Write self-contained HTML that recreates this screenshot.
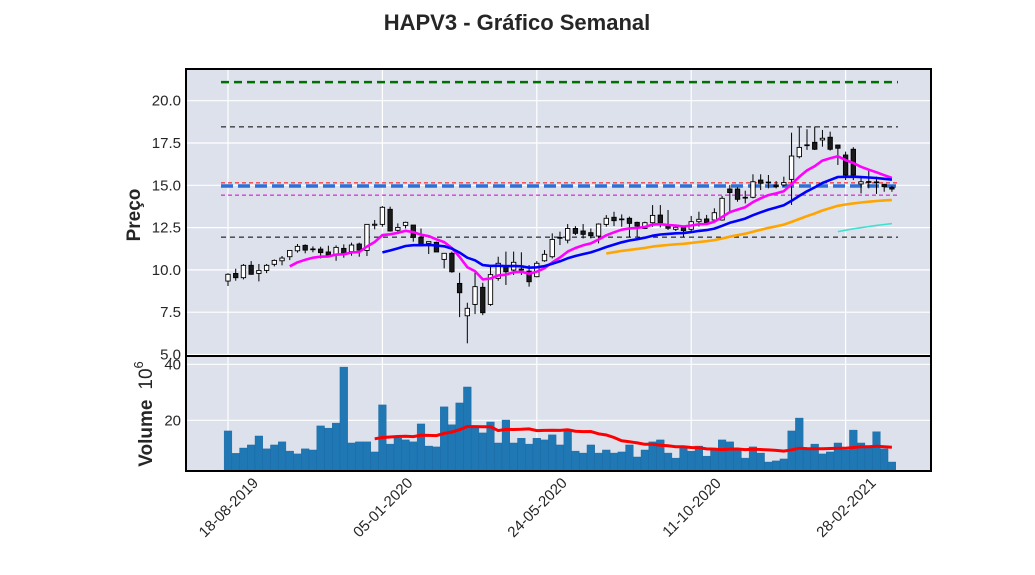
<!DOCTYPE html>
<html><head><meta charset="utf-8">
<style>
html,body{margin:0;padding:0;background:#fff;}
svg{display:block;font-family:"Liberation Sans",sans-serif;}
</style></head>
<body>
<svg id="chart" width="1035" height="575" viewBox="0 0 1035 575" xmlns="http://www.w3.org/2000/svg">
<text x="517" y="30" text-anchor="middle" font-size="22" font-weight="bold" fill="#262626">HAPV3 - Gráfico Semanal</text>
<rect x="186" y="69" width="745" height="287" fill="#dce1ec"/>
<rect x="186" y="356" width="745" height="115" fill="#dce1ec"/>
<g id="grid"></g>
<g id="hlines"></g>
<g id="vol"></g>
<g id="candles"></g>
<g id="mas"></g>
<rect x="186" y="69" width="745" height="287" fill="none" stroke="#000" stroke-width="2"/>
<rect x="186" y="356" width="745" height="115" fill="none" stroke="#000" stroke-width="2"/>
<g id="ticks"></g>
<text transform="translate(140,215) rotate(-90)" text-anchor="middle" font-size="19" font-weight="bold" fill="#262626">Preço</text>
<text transform="translate(152,414) rotate(-90)" text-anchor="middle" font-size="19" fill="#262626"><tspan font-weight="bold">Volume</tspan><tspan dx="10">10</tspan><tspan dy="-9" font-size="13">6</tspan></text>
</svg>
<script>
const opens=[9.34,9.79,9.54,10.27,9.79,9.97,10.33,10.54,10.78,11.13,11.45,11.24,11.23,11.06,10.88,11.27,11.08,11.53,11.15,12.64,12.69,13.58,12.34,12.63,12.65,11.92,11.57,11.63,10.62,10.98,9.20,7.29,7.96,8.97,7.96,9.50,10.19,9.99,10.05,9.93,9.60,10.54,10.78,11.90,11.76,12.45,12.30,12.20,12.00,12.69,13.11,13.01,13.05,12.81,12.45,12.79,13.24,12.60,12.40,12.52,12.40,12.85,13.01,12.95,12.95,14.78,14.78,14.29,14.29,15.31,15.18,15.02,15.02,15.35,16.69,17.38,17.54,17.68,17.84,17.38,16.79,17.13,15.08,15.21,15.20,15.06,14.88];
const highs=[9.80,10.07,10.35,10.52,10.35,10.35,10.62,10.82,11.15,11.53,11.51,11.39,11.37,11.43,11.45,11.51,11.61,11.61,12.69,12.95,13.77,13.74,12.75,12.85,12.65,12.45,11.67,11.67,10.98,11.08,9.83,8.06,9.99,9.24,10.29,10.78,11.08,11.08,11.04,10.29,10.52,11.17,12.16,12.26,12.71,12.59,12.71,12.45,12.75,13.24,13.44,13.28,13.15,12.85,12.85,13.83,13.83,13.54,12.60,12.60,13.19,13.44,13.25,13.64,14.37,15.02,14.88,14.68,15.65,15.65,15.61,15.25,15.51,18.11,18.43,18.31,18.47,18.27,18.17,17.38,16.99,17.25,15.51,15.90,15.51,15.06,14.96];
const lows=[9.05,9.36,9.44,9.72,9.32,9.81,10.21,10.27,10.58,11.02,10.98,11.04,10.68,10.78,10.54,10.72,10.84,10.78,10.82,12.40,12.55,12.26,12.20,12.45,11.67,11.47,10.94,11.06,10.09,9.83,7.21,5.66,7.39,7.33,7.88,9.36,9.11,9.70,9.70,9.01,9.56,10.48,10.68,11.47,11.57,12.06,11.86,11.86,11.57,12.55,12.59,12.55,11.92,11.96,12.41,12.55,12.51,12.36,12.30,11.93,12.30,12.56,12.65,12.89,12.91,13.44,14.03,13.93,14.23,14.72,14.82,14.82,14.92,13.84,16.59,17.09,17.09,17.28,17.05,16.20,15.31,15.31,14.52,14.82,14.49,14.62,14.62];
const closes=[9.74,9.54,10.27,9.74,9.97,10.27,10.56,10.70,11.15,11.39,11.17,11.22,11.02,10.88,11.33,10.98,11.47,11.17,12.69,12.70,13.70,12.30,12.51,12.81,11.92,11.47,11.67,11.06,10.98,9.89,8.65,7.73,9.01,7.47,9.72,10.39,9.89,10.45,9.99,9.30,10.39,10.92,11.80,11.92,12.45,12.16,12.10,12.02,12.71,13.05,12.91,13.00,12.75,12.59,12.79,13.22,12.79,12.46,12.52,12.32,12.85,12.99,12.79,13.38,14.23,14.57,14.17,14.27,15.21,15.12,15.19,14.92,15.16,16.73,17.24,17.39,17.13,17.78,17.13,17.19,15.61,15.61,15.21,15.22,15.15,14.92,14.78];
const volumes=[16.2,8.2,10.1,11.2,14.4,9.8,11.2,12.3,9.0,8.0,9.8,9.4,18.0,17.2,19.0,39.0,11.9,12.3,12.3,8.7,25.5,11.5,13.6,13.0,12.3,18.7,10.8,10.5,24.8,18.4,26.2,31.9,17.5,15.5,19.4,11.9,20.1,11.9,13.6,11.5,13.6,13.0,14.8,11.2,16.5,9.0,8.3,11.2,8.3,9.4,8.3,8.7,11.2,6.9,9.4,12.3,13.0,8.3,6.5,10.5,9.0,10.8,7.2,9.4,13.0,12.3,9.4,6.5,10.5,8.3,5.1,5.5,6.2,16.2,20.8,9.4,11.5,8.0,8.7,11.9,9.4,16.5,11.9,10.1,15.9,9.8,5.1];
const xTickIdx=[0,20,40,60,80];
const xTickLabels=["18-08-2019","05-01-2020","24-05-2020","11-10-2020","28-02-2021"];
const priceTicks=[5.0,7.5,10.0,12.5,15.0,17.5,20.0];
const volTicks=[20,40];
const maPeriods=[9,21,50,80];
const maColors=["#ff00ff","#0000ff","#ffa500","#40e0d0"];
const levelValues=[21.1,18.45,15.14,14.96,14.42,11.94];
const levelColors=["#007000","#000","#ff0000","#2f6fd6","#d000d0","#000"];
const levelWidths=[2.5,1,1,3.5,1,1];
const levelDash=["8,5","5,4","4,3","12,5","4,3","5,4"];
const volMaPeriod=20;

const NS="http://www.w3.org/2000/svg";
const X=i=>228+i*7.72;
const PY=p=>354.5-(p-5)*16.92;
const VY=v=>476.3-v*2.8;
function mk(tag,parent,attrs){const e=document.createElementNS(NS,tag);for(const k in attrs)e.setAttribute(k,attrs[k]);document.getElementById(parent).appendChild(e);return e;}
function sma(arr,n){const out=[];for(let i=0;i<arr.length;i++){if(i<n-1){out.push(null);continue;}let s=0;for(let j=i-n+1;j<=i;j++)s+=arr[j];out.push(s/n);}return out;}
function ema(arr,n){const out=[];const a=2/(n+1);let e=null;for(let i=0;i<arr.length;i++){if(i<n-1){out.push(null);continue;}if(e===null){let s=0;for(let j=0;j<n;j++)s+=arr[j];e=s/n;}else e=a*arr[i]+(1-a)*e;out.push(e);}return out;}
// grid
xTickIdx.forEach((ti,k)=>{
  for(const [y1,y2] of [[69,356],[356,471]]){
    const l=mk('line','grid',{x1:X(ti),x2:X(ti),y1:y1,y2:y2,stroke:'#fff','stroke-width':1.2});
    
    
  }
  const t=mk('text','ticks',{transform:`translate(${X(ti)+4},${511}) rotate(-45)`,'text-anchor':'middle','font-size':15,fill:'#262626'});
  t.textContent=xTickLabels[k];
  
  
});
priceTicks.forEach(p=>{
  const l=mk('line','grid',{x1:186,x2:931,y1:PY(p),y2:PY(p),stroke:'#fff','stroke-width':1.2});
  
  
  const t=mk('text','ticks',{x:181,y:PY(p)+5,'text-anchor':'end','font-size':15,fill:'#262626'});
  t.textContent=p.toFixed(1);
  
  
});
volTicks.forEach(v=>{
  const l=mk('line','grid',{x1:186,x2:931,y1:VY(v),y2:VY(v),stroke:'#fff','stroke-width':1.2});
  
  
  const t=mk('text','ticks',{x:181,y:VY(v)+5,'text-anchor':'end','font-size':15,fill:'#262626'});
  t.textContent=v;
  
  
});
// levels
levelValues.forEach((v,k)=>{
  const l=mk('line','hlines',{x1:221,x2:898,y1:PY(v),y2:PY(v),stroke:levelColors[k],'stroke-width':levelWidths[k],'stroke-dasharray':levelDash[k]});
  
  
});
// volume bars
volumes.forEach((v,i)=>{
  const r=mk('rect','vol',{x:X(i)-3.86,y:VY(v),width:7.72,height:Math.max(0,471-VY(v)),fill:'#1f77b4',stroke:'#1a66a0','stroke-width':0.4});
  
  
});
const vma=sma(volumes,volMaPeriod);
let vp='';vma.forEach((v,i)=>{if(v!==null)vp+=(vp?'L':'M')+X(i).toFixed(1)+','+VY(v).toFixed(1);});
const vl=mk('path','vol',{d:vp,fill:'none',stroke:'#ff0000','stroke-width':3});


// candles
closes.forEach((c,i)=>{
  const o=opens[i],x=X(i);
  const w=mk('line','candles',{x1:x,x2:x,y1:PY(highs[i]),y2:PY(lows[i]),stroke:'#000','stroke-width':1});
  
  
  const top=PY(Math.max(o,c)),bot=PY(Math.min(o,c));
  const b=mk('rect','candles',{x:x-2.2,y:top,width:4.4,height:Math.max(0.8,bot-top),fill:c>=o?'#fff':'#1a1a1a',stroke:'#000','stroke-width':0.9});
  
  
});
// moving averages
maPeriods.forEach((n,k)=>{
  const m=ema(closes,n);let d='';
  m.forEach((v,i)=>{if(v!==null)d+=(d?'L':'M')+X(i).toFixed(1)+','+PY(v).toFixed(1);});
  const p=mk('path','mas',{d:d,fill:'none',stroke:maColors[k],'stroke-width':k==3?1.6:2.6,'stroke-linejoin':'round'});
  
  
});
</script>
</body></html>
